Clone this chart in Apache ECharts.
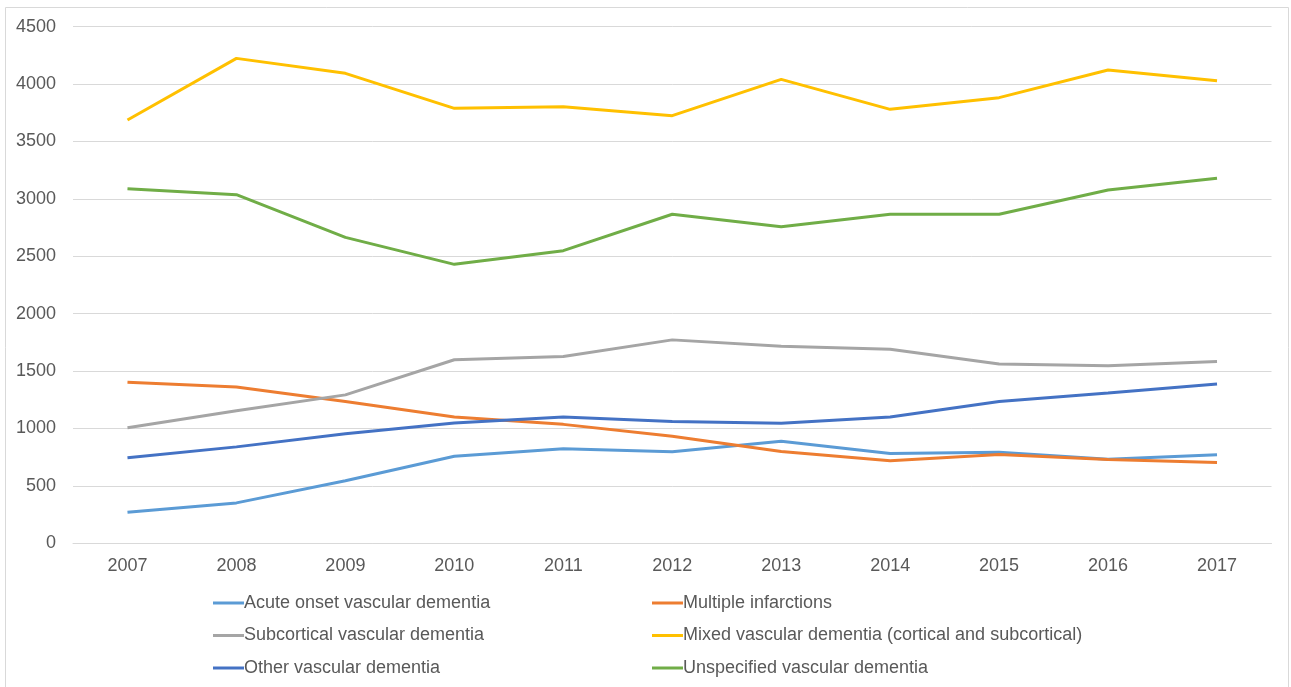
<!DOCTYPE html>
<html>
<head>
  <meta charset="UTF-8">
  <title>Vascular dementia</title>
  <script src="https://cdn.jsdelivr.net/npm/echarts@6/dist/echarts.min.js"></script>
  <style>
    * { margin: 0; padding: 0; }
    body { background: #fff; }
    #chart { width: 1291px; height: 687px; }
  </style>
</head>
<body>
  <div id="chart"></div>
  <script>
    // years on the category axis
    const years = ['2007', '2008', '2009', '2010', '2011', '2012', '2013', '2014', '2015', '2016', '2017'];

    // values
    const acuteOnset = [271, 352, 545, 759, 823, 797, 889, 782, 794, 733, 771];
    const multipleInfarctions = [1403, 1362, 1235, 1100, 1036, 932, 799, 719, 773, 730, 704];
    const subcortical = [1007, 1154, 1293, 1599, 1628, 1772, 1717, 1691, 1561, 1547, 1584];
    const mixed = [3687, 4224, 4094, 3789, 3803, 3725, 4041, 3780, 3882, 4123, 4030];
    const other = [745, 840, 955, 1048, 1100, 1062, 1045, 1100, 1235, 1310, 1388];
    const unspecified = [3089, 3037, 2665, 2430, 2549, 2866, 2758, 2866, 2866, 3078, 3179];

    const names = [
      'Acute onset vascular dementia',
      'Multiple infarctions',
      'Subcortical vascular dementia',
      'Mixed vascular dementia (cortical and subcortical)',
      'Other vascular dementia',
      'Unspecified vascular dementia'
    ];
    const values = [acuteOnset, multipleInfarctions, subcortical, mixed, other, unspecified];
    const colors = ['#5B9BD5', '#ED7D31', '#A5A5A5', '#FFC000', '#4472C4', '#70AD47'];

    const chart = echarts.init(document.getElementById('chart'));

    const legendBase = {
      orient: 'vertical',
      top: 589,
      icon: 'rect',
      itemWidth: 31,
      itemHeight: 3,
      itemGap: 14.5,
      textStyle: {
        fontFamily: 'Liberation Sans, Arial, sans-serif',
        fontSize: 18,
        color: '#595959',
        padding: [0, 0, 0, -5]
      }
    };

    chart.setOption({
      animation: false,
      color: colors,
      graphic: [{
        type: 'rect',
        shape: { x: 5.5, y: 7.5, width: 1283, height: 700 },
        style: { fill: 'none', stroke: '#d9d9d9', lineWidth: 1 },
        silent: true
      }],
      grid: { left: 73, right: 19.5, top: 26.7, bottom: 143.7 },
      legend: [
        Object.assign({}, legendBase, { left: 208, data: [names[0], names[2], names[4]] }),
        Object.assign({}, legendBase, { left: 647, data: [names[1], names[3], names[5]] })
      ],
      xAxis: {
        type: 'category',
        data: years,
        boundaryGap: true,
        axisLine: { lineStyle: { color: '#d9d9d9', width: 1 } },
        axisTick: { show: false },
        axisLabel: {
          margin: 14,
          fontFamily: 'Liberation Sans, Arial, sans-serif',
          fontSize: 18,
          color: '#595959'
        }
      },
      yAxis: {
        type: 'value',
        min: 0,
        max: 4500,
        interval: 500,
        axisLine: { show: false },
        axisTick: { show: false },
        splitLine: { lineStyle: { color: '#d9d9d9', width: 1 } },
        axisLabel: {
          margin: 17,
          formatter: v => String(v),
          fontFamily: 'Liberation Sans, Arial, sans-serif',
          fontSize: 18,
          color: '#595959'
        }
      },
      series: names.map((n, i) => ({
        name: n,
        type: 'line',
        data: values[i],
        symbol: 'none',
        lineStyle: { width: 3, color: colors[i] },
        itemStyle: { color: colors[i] }
      }))
    });
  </script>
</body>
</html>
